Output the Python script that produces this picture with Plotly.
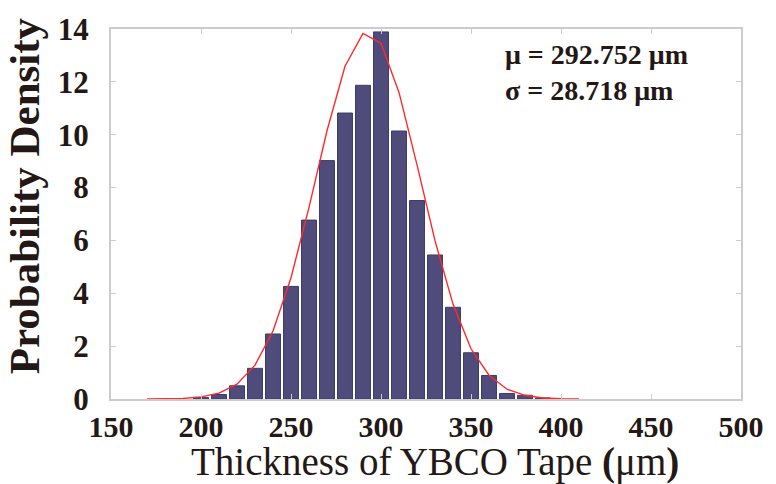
import plotly.graph_objects as go

# Histogram bins (centre of each 10 µm bin) and their probability densities (x1e-3)
bin_centers = [200, 210, 220, 230, 240, 250, 260, 270, 280, 290,
               300, 310, 320, 330, 340, 350, 360, 370, 380, 390]
bin_density = [0.06, 0.17, 0.50, 1.16, 2.46, 4.26, 6.77, 9.02, 10.82, 11.87,
               13.89, 10.14, 7.51, 5.45, 3.47, 1.75, 0.89, 0.21, 0.14, 0.04]

# Fitted normal curve, sampled every 10 µm
fit_x = [170, 180, 190, 200, 210, 220, 230, 240, 250, 260, 270, 280, 290,
         300, 310, 320, 330, 340, 350, 360, 370, 380, 390, 400, 410]
fit_y = [0.0, 0.01, 0.02, 0.08, 0.22, 0.56, 1.28, 2.57, 4.59, 7.25, 10.15, 12.59, 13.83,
         13.46, 11.60, 8.86, 5.99, 3.59, 1.90, 0.90, 0.37, 0.14, 0.04, 0.01, 0.0]

x_ticks = [150, 200, 250, 300, 350, 400, 450, 500]
y_ticks = [0, 2, 4, 6, 8, 10, 12, 14]

mu_label = "μ = 292.752 μm"
sigma_label = "σ = 28.718 μm"

SERIF = "Liberation Serif, Times New Roman, serif"
AXIS_GREY = "#cccccc"
INK = "#231815"

fig = go.Figure()
fig.add_trace(go.Bar(
    x=bin_centers, y=bin_density, width=8.3,
    marker=dict(color="#4f4b7b", line=dict(color="#3e3a68", width=1)),
    showlegend=False,
))
fig.add_trace(go.Scatter(
    x=fit_x, y=fit_y, mode="lines",
    line=dict(color="#ff2a2a", width=1.4),
    showlegend=False,
))

fig.update_layout(
    width=776, height=484,
    margin=dict(l=111, r=30, t=22, b=85),
    paper_bgcolor="white", plot_bgcolor="white",
    font=dict(family=SERIF, color=INK),
    xaxis=dict(
        range=[150, 500], tickvals=x_ticks, showgrid=False, zeroline=False,
        showline=True, linecolor=AXIS_GREY, linewidth=2, mirror="ticks",
        ticks="inside", ticklen=5, tickcolor=AXIS_GREY,
        tickfont=dict(family=SERIF, size=30, color=INK, weight="bold"),
        ticklabelstandoff=0,
    ),
    yaxis=dict(
        range=[0, 14], tickvals=y_ticks, showgrid=False, zeroline=False,
        showline=True, linecolor=AXIS_GREY, linewidth=2, mirror="ticks",
        ticks="inside", ticklen=5, tickcolor=AXIS_GREY,
        tickfont=dict(family=SERIF, size=31, color=INK, weight="bold"),
        ticklabelstandoff=14,
    ),
    annotations=[
        dict(text=f"<b>{mu_label}</b><br><b>{sigma_label}</b>",
             xref="paper", yref="paper", x=0.622, y=0.978,
             xanchor="left", yanchor="top", align="left", showarrow=False,
             font=dict(family=SERIF, size=28, color=INK)),
        dict(text="<b>Probability Density</b>", textangle=-90,
             xref="paper", yref="paper", x=-0.138, y=0.548,
             xanchor="center", yanchor="middle", showarrow=False,
             font=dict(family=SERIF, size=43, color=INK)),
        dict(text="Thickness of YBCO Tape <b>(</b>μm<b>)</b>",
             xref="paper", yref="paper", x=0.514, y=-0.108,
             xanchor="center", yanchor="top", showarrow=False, borderpad=0,
             font=dict(family=SERIF, size=39, color=INK)),
    ],
)

fig.write_html("out.html")
